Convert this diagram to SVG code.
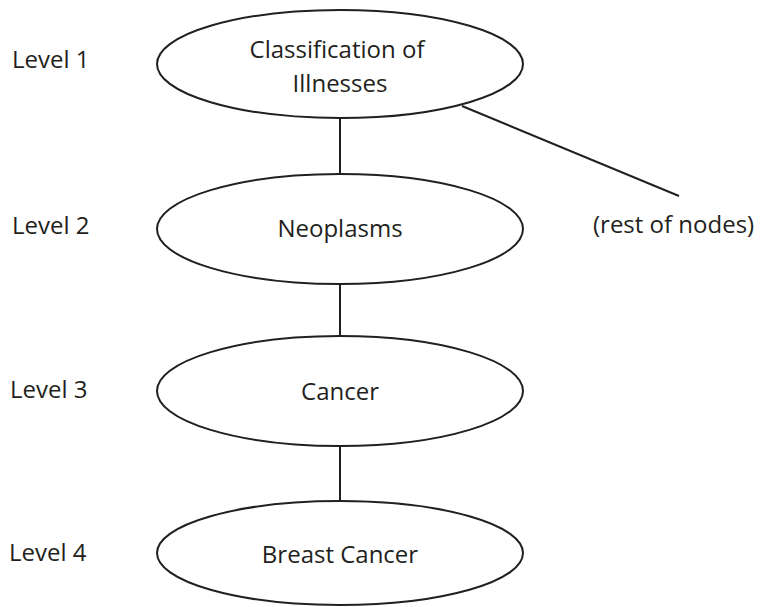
<svg xmlns="http://www.w3.org/2000/svg" width="764" height="607" viewBox="0 0 764 607">
<style>
.node{fill:#fff;stroke:#231f20;stroke-width:2}
.edge{stroke:#231f20;stroke-width:2;fill:none}
.t{font-family:"Open Sans","Liberation Sans",sans-serif;font-size:24px;fill:#231f20}
.c{text-anchor:middle}
</style>
<rect width="764" height="607" fill="#fff"/>
<g id="connectors">
<line class="edge" x1="340" y1="118" x2="340" y2="174"/>
<line class="edge" x1="340" y1="284" x2="340" y2="336"/>
<line class="edge" x1="340" y1="446" x2="340" y2="501"/>
<line class="edge" x1="462" y1="106" x2="679" y2="196"/>
</g>
<g id="level-labels">
<text class="t" x="12" y="68">Level 1</text>
<text class="t" x="12" y="234">Level 2</text>
<text class="t" x="10" y="398">Level 3</text>
<text class="t" x="9" y="561">Level 4</text>
</g>
<g id="n1">
<ellipse class="node" cx="340" cy="64" rx="183" ry="54"/>
<text class="t c" x="337" y="58">Classification of</text>
<text class="t c" x="340" y="92">Illnesses</text>
</g>
<g id="n2">
<ellipse class="node" cx="340" cy="229" rx="183" ry="55"/>
<text class="t c" x="340" y="237">Neoplasms</text>
</g>
<g id="n3">
<ellipse class="node" cx="340" cy="391" rx="183" ry="55"/>
<text class="t c" x="340" y="400">Cancer</text>
</g>
<g id="n4">
<ellipse class="node" cx="340" cy="553" rx="183" ry="52"/>
<text class="t c" x="340" y="563">Breast Cancer</text>
</g>
<g id="rest">
<text class="t" x="593" y="233">(rest of nodes)</text>
</g>
</svg>
